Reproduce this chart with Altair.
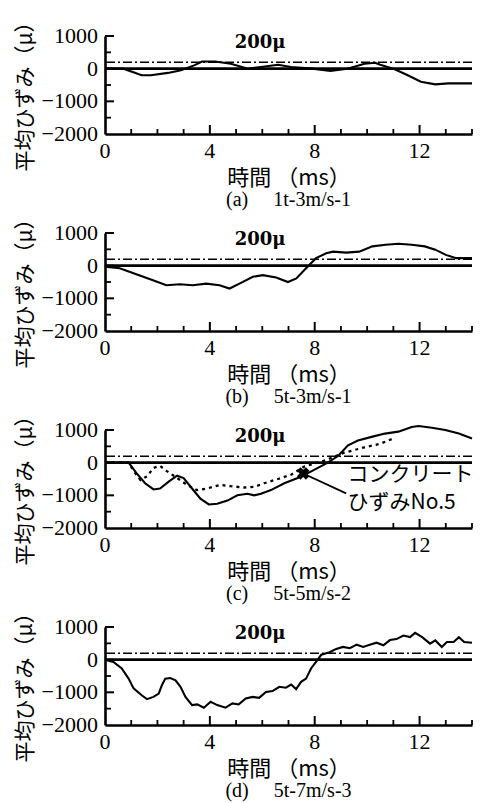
import altair as alt
import pandas as pd

# ---- axis ranges / reference levels ----
x_min, x_max = 0, 14
y_min, y_max = -2000, 1000
zero_level = 0
threshold = 200
x_labels = [0, 4, 8, 12]
x_label_text = ["0", "4", "8", "12"]
y_labels = [1000, 0, -1000, -2000]
y_label_text = ["1000", "0", "\u22121000", "\u22122000"]
x_minor = [1, 2, 3, 5, 6, 7, 9, 10, 11, 13, 14]
x_major = [4, 8, 12]
y_minor = [500, -500, -1500]
y_major = [1000, 0, -1000]

label_text = "200μ"
label_t = 4.95
label_v = 780

# ---- panel (a) 1t-3m/s-1 ----
t_a = [0, 0.7, 1.4, 1.75, 2.4, 2.9, 3.4, 3.7, 4.2, 4.8, 5.45, 5.95, 6.6, 7.1,
       7.9, 8.6, 9.25, 9.9, 10.3, 10.5, 11.05, 11.55, 12.05, 12.6, 13.1, 14]
v_a = [0, 0, -200, -200, -130, -50, 100, 220, 220, 150, 0, 50, 120, 50,
       0, -70, 0, 150, 180, 120, -20, -200, -400, -480, -450, -450]

# ---- panel (b) 5t-3m/s-1 ----
t_b = [0, 0.56, 1.3, 1.83, 2.34, 2.85, 3.35, 3.86, 4.37, 4.75, 5.13, 5.64, 6.02,
       6.53, 6.98, 7.3, 7.67, 8.05, 8.44, 8.7, 9.2, 9.7, 10.2, 10.7, 11.2, 11.7,
       12.2, 12.6, 13.0, 13.4, 14]
v_b = [-30, -80, -290, -445, -600, -570, -600, -550, -600, -700, -550, -340, -290,
       -360, -500, -390, -80, 230, 380, 430, 400, 430, 590, 640, 670, 640,
       590, 490, 330, 230, 230]

# ---- panel (c) 5t-5m/s-2 : averaged strain (solid) ----
t_c = [0, 0.9, 1.2, 1.53, 1.85, 2.1, 2.43, 2.75, 3.0, 3.32, 3.64, 3.96, 4.28,
       4.67, 5.05, 5.43, 5.69, 5.95, 6.33, 6.84, 7.35, 7.74, 8.12, 8.5, 8.9,
       9.27, 9.65, 10.17, 10.68, 11.19, 11.7, 11.96, 12.47, 12.98, 13.5, 14]
v_c = [0, 0, -320, -630, -820, -790, -580, -400, -470, -790, -1100, -1280, -1260,
       -1160, -1000, -950, -1000, -950, -840, -630, -470, -320, -160, 0, 210,
       530, 680, 790, 890, 950, 1090, 1120, 1070, 1000, 890, 740]

# ---- panel (c) concrete strain No.5 (dotted) ----
t_c2 = [0, 0.9, 1.1, 1.35, 1.6, 1.85, 2.1, 2.36, 2.75, 3.13, 3.5, 3.9, 4.4, 4.8,
        5.3, 5.7, 6.07, 6.6, 7.1, 7.6, 8.4, 9.1, 9.9, 10.5, 11.0]
v_c2 = [0, 0, -260, -530, -420, -160, -100, -260, -470, -680, -840, -790, -680, -720,
        -760, -740, -630, -500, -370, -120, 70, 300, 470, 580, 740]

marker_t, marker_v = 7.56, -330
leader_t2, leader_v2 = 9.2, -940
note_t = 9.25
note_lines = ["コンクリート", "ひずみNo.5"]
note_v = [-370, -1220]

# ---- panel (d) 5t-7m/s-3 ----
t_d = [0, 0.32, 0.64, 0.9, 1.09, 1.4, 1.6, 1.85, 2.05, 2.17, 2.3, 2.49, 2.69, 2.88,
       3.07, 3.32, 3.52, 3.77, 4.03, 4.28, 4.6, 4.86, 5.1, 5.37, 5.63, 5.88, 6.14,
       6.39, 6.65, 6.9, 7.1, 7.29, 7.48, 7.67, 7.86, 8.05, 8.25, 8.57, 8.82, 9.08,
       9.34, 9.6, 9.85, 10.1, 10.36, 10.62, 10.87, 11.12, 11.38, 11.64, 11.83, 12.1,
       12.4, 12.6, 12.85, 13.04, 13.3, 13.5, 13.7, 14]
v_d = [0, -70, -270, -580, -880, -1090, -1210, -1140, -1040, -780, -580, -560, -630, -830,
       -1140, -1390, -1370, -1470, -1290, -1390, -1470, -1340, -1370, -1190, -1140, -1170, -990,
       -960, -830, -860, -760, -900, -680, -580, -270, -70, 150, 230, 330, 390,
       350, 460, 390, 460, 520, 440, 600, 630, 740, 690, 820, 690,
       490, 590, 390, 540, 540, 690, 540, 520]

captions = [
    "(a)\u00a0\u00a0\u00a0\u00a0 1t-3m/s-1",
    "(b)\u00a0\u00a0\u00a0\u00a0 5t-3m/s-1",
    "(c)\u00a0\u00a0\u00a0\u00a0 5t-5m/s-2",
    "(d)\u00a0\u00a0\u00a0\u00a0 5t-7m/s-3",
]

W, H = 367, 98
NUM_FONT = "Liberation Serif"
JP_FONT = "Noto Sans CJK JP"

xs = alt.Scale(domain=[x_min, x_max], nice=False, zero=False)
ys = alt.Scale(domain=[y_min, y_max], nice=False, zero=False)

xaxis = alt.Axis(values=x_labels, labels=False, title="時間 （ms）", ticks=False, tickSize=0,
                 grid=False, domainWidth=2.6, domainColor="black",
                 titleFont=JP_FONT, titleFontSize=22, titleFontWeight="normal",
                 titlePadding=33, titleColor="black")
yaxis = alt.Axis(values=y_labels, labels=False, title="平均ひずみ（μ）", ticks=False, tickSize=0,
                 grid=False, domainWidth=2.6, domainColor="black",
                 titleFont=JP_FONT, titleFontSize=21, titleFontWeight="normal",
                 titlePadding=70, titleColor="black", titleY=H / 2 + 6)

X = lambda f: alt.X(f, scale=xs, axis=xaxis)
Y = lambda f: alt.Y(f, scale=ys, axis=yaxis)


def panel(series, caption, extra=None):
    layers = []
    # thick zero line
    layers.append(alt.Chart(pd.DataFrame({"v": [zero_level]})).mark_rule(
        color="black", strokeWidth=2.6).encode(y=Y("v:Q")))
    # 200 micro dash-dot line
    layers.append(alt.Chart(pd.DataFrame({"v": [threshold]})).mark_rule(
        color="black", strokeWidth=1.5, strokeDash=[9, 3, 2, 3]).encode(y=Y("v:Q")))
    # inward ticks
    layers.append(alt.Chart(pd.DataFrame({"t": x_minor})).mark_rule(
        color="black", strokeWidth=1.8).encode(x=X("t:Q"), y=alt.value(H), y2=alt.value(H - 5)))
    layers.append(alt.Chart(pd.DataFrame({"t": x_major})).mark_rule(
        color="black", strokeWidth=2).encode(x=X("t:Q"), y=alt.value(H), y2=alt.value(H - 9)))
    layers.append(alt.Chart(pd.DataFrame({"v": y_minor})).mark_rule(
        color="black", strokeWidth=1.8).encode(y=Y("v:Q"), x=alt.value(0), x2=alt.value(6)))
    layers.append(alt.Chart(pd.DataFrame({"v": y_major})).mark_rule(
        color="black", strokeWidth=2).encode(y=Y("v:Q"), x=alt.value(0), x2=alt.value(9)))
    # tick labels (serif numerals)
    layers.append(alt.Chart(pd.DataFrame({"t": x_labels, "s": x_label_text})).mark_text(
        align="center", baseline="top", font=NUM_FONT, fontSize=22, color="black").encode(
        x=X("t:Q"), y=alt.value(H + 7), text="s:N"))
    layers.append(alt.Chart(pd.DataFrame({"v": y_labels, "s": y_label_text})).mark_text(
        align="right", baseline="middle", font=NUM_FONT, fontSize=22, color="black").encode(
        y=Y("v:Q"), x=alt.value(-7), text="s:N"))
    # data curves
    for (tt, vv, dash) in series:
        kw = dict(color="black", strokeWidth=2.1, clip=False)
        if dash:
            kw["strokeDash"] = [3, 4]
            kw["strokeWidth"] = 2.3
        layers.append(alt.Chart(pd.DataFrame({"t": tt, "v": vv})).mark_line(**kw).encode(
            x=X("t:Q"), y=Y("v:Q")))
    # 200 micro label
    layers.append(alt.Chart(pd.DataFrame({"t": [label_t], "v": [label_v], "s": [label_text]})).mark_text(
        align="left", baseline="middle", font="DejaVu Serif", fontWeight="bold", fontSize=18,
        color="black").encode(x=X("t:Q"), y=Y("v:Q"), text="s:N"))
    if extra:
        layers.extend(extra)
    return alt.layer(*layers).properties(
        width=W, height=H,
        title=alt.TitleParams(text=caption, orient="bottom", anchor="middle", font=NUM_FONT,
                              fontSize=20, fontWeight="normal", color="black", offset=2))


annot = [
    alt.Chart(pd.DataFrame({"t": [marker_t], "v": [marker_v], "t2": [leader_t2], "v2": [leader_v2]}))
    .mark_rule(color="black", strokeWidth=1.8)
    .encode(x=X("t:Q"), y=Y("v:Q"), x2="t2:Q", y2="v2:Q"),
    alt.Chart(pd.DataFrame({"t": [marker_t], "v": [marker_v]}))
    .mark_point(shape="cross", angle=45, filled=True, size=160, color="black", opacity=1)
    .encode(x=X("t:Q"), y=Y("v:Q")),
    alt.Chart(pd.DataFrame({"t": [note_t, note_t], "v": note_v, "s": note_lines}))
    .mark_text(align="left", baseline="middle", font=JP_FONT, fontSize=21, color="black")
    .encode(x=X("t:Q"), y=Y("v:Q"), text="s:N"),
]

pa = panel([(t_a, v_a, False)], captions[0])
pb = panel([(t_b, v_b, False)], captions[1])
pc = panel([(t_c2, v_c2, True), (t_c, v_c, False)], captions[2], extra=annot)
pd_ = panel([(t_d, v_d, False)], captions[3])

chart = alt.vconcat(pa, pb, pc, pd_, spacing=99, bounds="flush").configure_view(
    stroke=None).properties(
    padding={"left": 6, "top": 2, "right": 5, "bottom": 5}, background="white")

chart.save("out.html", embed_options={"renderer": "svg", "actions": False})
